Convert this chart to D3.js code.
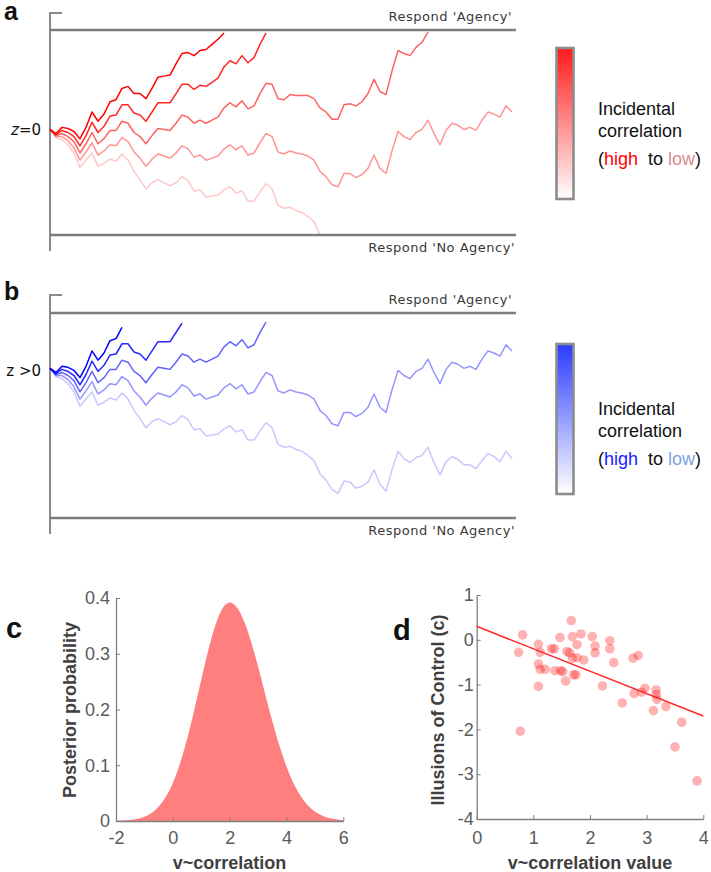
<!DOCTYPE html>
<html><head><meta charset="utf-8">
<script src="https://cdn.jsdelivr.net/npm/d3@7"></script>
<style>body{margin:0;background:#fff}svg{display:block}</style>
</head><body>
<svg id="fig" width="711" height="872"></svg>
<script>
// ---------- DATA ----------
// time steps of the accumulation (shared by all walks)
const steps = [0,6,12,18,24,30,36,42,48,54,60,66,72,78,84,90,96,102,108,114,120,126,132,138,144,150,156,162,168,174,180,186,192,198,204,210,216,222,228,234,240,246,252,258,264,270,276,282,288,294,300,306,312,318,324,330,336,342,348,354,360,366,372,378,384,390,396,402,408,414,420,426,432,438,444,450,456,462];
// evidence displacement from the starting point, walks ordered high -> low incidental correlation
const walk1 = [0,-4,2,1,-2,-9,2,17,8,15,27,29,40,42,35,35,30,40,51,52,53,64,74,75,72,77,78,83,88,94];
const walk2 = [0,-5,-1,-3,-7,-16,-6,7,-3,3,13,14,24,24,16,14,8,17,26,26,26,35,44,44,39,43,42,46,50,61,67,64,72,65,70,83,94];
const walk3 = [0,-6,-4,-7,-12,-23,-14,-3,-14,-9,-1,-1,8,6,-3,-7,-14,-6,1,0,-1,6,14,12,6,9,6,9,12,21,26,22,28,20,23,35,45,44,30,29,34,33,33,33,30,21,17,10,10,24,25,23,27,35,49,37,34,57,77,74,72,80,85,95];
const walk4 = [0,-7,-7,-11,-18,-30,-22,-13,-25,-21,-15,-16,-8,-12,-22,-28,-36,-29,-24,-26,-28,-23,-16,-19,-27,-25,-30,-28,-26,-19,-15,-20,-16,-25,-23,-13,-4,-7,-22,-24,-21,-23,-24,-26,-30,-41,-46,-54,-56,-43,-43,-47,-44,-38,-25,-38,-43,-21,-2,-7,-10,-3,0,9,-4,-15,-1,6,4,0,2,-1,9,17,15,12,23,17];
const walk5 = [0,-8,-10,-15,-23,-37,-30,-23,-36,-33,-29,-31,-24,-30,-41,-49,-58,-52,-49,-52,-55,-52,-46,-50,-60,-59,-66,-65,-64,-59,-56,-62,-60,-70,-70,-61,-53,-58,-74,-77,-76,-79,-81,-85,-90,-103,-109,-118,-122,-110,-111,-117,-115,-111,-99,-113,-120,-99,-81,-88,-92,-87,-85,-77,-92,-104,-91,-86,-89,-94,-94,-98,-90,-83,-86,-91,-81,-88];
const walkAlpha = [1, 0.85, 0.62, 0.42, 0.22];
const bounds = [-100, 100];
const startA = 3, startB = 46;
const stopA = [29, 36, 63, 77, 45];   // last step index drawn (panel a)
const stopB = [12, 22, 36, 77, 77];   // last step index drawn (panel b)

// panel c: posterior density
const densityX = [-2,-1.75,-1.5,-1.25,-1,-0.75,-0.5,-0.25,0,0.25,0.5,0.75,1,1.25,1.5,1.75,2,2.25,2.5,2.75,3,3.25,3.5,3.75,4,4.25,4.5,4.75,5,5.25,5.5,5.75,6];
const densityY = [0.0004,0.0008,0.0019,0.0039,0.0077,0.0144,0.0256,0.043,0.0683,0.1029,0.1467,0.1982,0.2532,0.3066,0.3515,0.3815,0.392,0.3836,0.3594,0.3225,0.277,0.2279,0.1795,0.1354,0.0978,0.0676,0.0448,0.0284,0.0172,0.01,0.0056,0.003,0.0015];
const cTicksX = [-2,0,2,4,6];
const cTicksY = [0,0.1,0.2,0.3,0.4];

// panel d: scatter
const scatterX = [0.74,0.81,0.77,1.09,1.12,1.09,1.12,1.21,1.09,1.32,1.37,1.38,1.47,1.48,1.52,1.57,1.59,1.64,1.67,1.69,1.69,1.71,1.77,1.77,1.75,1.84,1.89,2.04,2.09,2.09,2.22,2.35,2.35,2.42,2.57,2.76,2.85,2.78,2.91,2.97,3.12,3.17,3.17,3.18,3.34,3.62,3.5,3.89];
const scatterY = [-0.28,0.11,-2.04,-0.1,-0.28,-0.54,-0.66,-0.66,-1.04,-0.2,-0.2,-0.69,0.05,-0.69,-0.71,-0.92,-0.26,-0.29,0.43,0.07,-0.41,-0.78,-0.11,-0.4,-0.78,0.13,-0.45,0.07,-0.14,-0.29,-1.03,-0.02,-0.2,-0.51,-1.41,-0.41,-0.35,-1.2,-1.17,-1.08,-1.58,-1.12,-1.22,-1.33,-1.49,-1.84,-2.39,-3.15];
const fitX = [0, 4];
const fitY = [0.3, -1.7];
const dTicksX = [0,1,2,3,4];
const dTicksY = [1,0,-1,-2,-3,-4];

// ---------- DRAWING ----------
const svg = d3.select("#fig");
const SANS = "'Liberation Sans', Arial, sans-serif";
const defs = svg.append("defs");
const walks = [walk1, walk2, walk3, walk4, walk5];

function walkPanel(o) {
  const g = svg.append("g");
  const x = d3.scaleLinear().domain([0, 466]).range([50, 516]);
  const y = d3.scaleLinear().domain(bounds).range([o.bottom, o.top]);
  // left axis
  g.append("path").attr("d", `M62,${o.axisTop}H50V${o.axisBottom}`)
    .attr("fill", "none").attr("stroke", "#8a8a8a").attr("stroke-width", 2);
  // decision bounds
  g.selectAll("line.bound").data(bounds).join("line")
    .attr("x1", x(0)).attr("x2", x(466))
    .attr("y1", d => y(d)).attr("y2", d => y(d))
    .attr("stroke", "#7d7d7d").attr("stroke-width", 2.6);
  // walks
  const line = d3.line().x((d, i) => x(steps[i])).y(d => y(o.start + d));
  const order = [4, 3, 2, 1, 0];
  order.forEach(k => {
    g.append("path").datum(walks[k].slice(0, o.stops[k] + 1))
      .attr("d", line).attr("fill", "none")
      .attr("stroke", o.color).attr("stroke-opacity", walkAlpha[k])
      .attr("stroke-width", 1.5).attr("stroke-linejoin", "round");
  });
  // start label
  const t = g.append("text").attr("x", o.zx).attr("y", o.zy).attr("text-anchor", "end")
    .attr("font-family", "'DejaVu Sans', sans-serif").attr("font-size", 15).attr("fill", "#111");
  t.append("tspan").attr("font-style", o.italic ? "italic" : "normal").text("z");
  t.append("tspan").text(o.zrest);
  // respond labels
  g.append("text").attr("x", 512).attr("y", o.agencyY).attr("text-anchor", "end")
    .attr("font-family", "'DejaVu Sans', sans-serif").attr("font-size", 13)
    .attr("letter-spacing", 0.5).attr("fill", "#3a3a3a").text("Respond 'Agency'");
  g.append("text").attr("x", 515).attr("y", o.noAgencyY).attr("text-anchor", "end")
    .attr("font-family", "'DejaVu Sans', sans-serif").attr("font-size", 13)
    .attr("letter-spacing", 0.5).attr("fill", "#3a3a3a").text("Respond 'No Agency'");
  // panel letter
  g.append("text").attr("x", 4).attr("y", o.letterY).attr("font-family", SANS)
    .attr("font-weight", "bold").attr("font-size", 25).attr("fill", "#111").text(o.letter);
  // colour bar
  const gid = "grad" + o.letter;
  const gr = defs.append("linearGradient").attr("id", gid).attr("x1", 0).attr("y1", 0).attr("x2", 0).attr("y2", 1);
  gr.append("stop").attr("offset", "0%").attr("stop-color", o.barTop);
  gr.append("stop").attr("offset", "100%").attr("stop-color", "#ffffff");
  g.append("rect").attr("x", 556.5).attr("y", o.barY0).attr("width", 17).attr("height", o.barY1 - o.barY0)
    .attr("fill", `url(#${gid})`).attr("stroke", "#8c8c8c").attr("stroke-width", 2.6);
  const lg = g.append("g").attr("font-family", SANS).attr("font-size", 18).attr("fill", "#111");
  lg.append("text").attr("x", 598).attr("y", o.legY[0]).text("Incidental");
  lg.append("text").attr("x", 598).attr("y", o.legY[1]).text("correlation");
  const l3 = lg.append("text").attr("x", 598).attr("y", o.legY[2]).attr("xml:space", "preserve");
  l3.append("tspan").text("(");
  l3.append("tspan").attr("fill", o.highColor).text("high");
  l3.append("tspan").text("  to ");
  l3.append("tspan").attr("fill", o.lowColor).text("low");
  l3.append("tspan").text(")");
}

walkPanel({
  top: 30, bottom: 235, start: startA, stops: stopA, color: "#ff0000",
  axisTop: 13, axisBottom: 251, zx: 41, zy: 135, italic: true, zrest: "=0",
  agencyY: 21, noAgencyY: 252, letter: "a", letterY: 20,
  barTop: "#ff1a1a", barY0: 48, barY1: 199, legY: [115, 137, 165],
  highColor: "#ff0000", lowColor: "#d98c8c"
});
walkPanel({
  top: 313, bottom: 518, start: startB, stops: stopB, color: "#0000ff",
  axisTop: 295, axisBottom: 534, zx: 41, zy: 376, italic: false, zrest: " >0",
  agencyY: 304, noAgencyY: 535, letter: "b", letterY: 300,
  barTop: "#2a3cff", barY0: 344, barY1: 494, legY: [415, 437, 465],
  highColor: "#1a1aff", lowColor: "#7ea3e6"
});

function styleAxis(sel) {
  sel.select(".domain").attr("stroke", "#7f7f7f").attr("stroke-width", 1.3);
  sel.selectAll(".tick line").attr("stroke", "#7f7f7f");
  sel.selectAll(".tick text").attr("fill", "#5a5a5a").attr("font-size", 18).attr("font-family", SANS);
}

// ---------- panel c ----------
{
  const x = d3.scaleLinear().domain([-2, 6]).range([116, 343.3]);
  const y = d3.scaleLinear().domain([0, 0.4]).range([821, 598]);
  const g = svg.append("g");
  const area = d3.area().x((d, i) => x(densityX[i])).y0(y(0)).y1(d => y(d)).curve(d3.curveMonotoneX);
  g.append("path").datum(densityY).attr("d", area).attr("fill", "#ff7f7f");
  g.append("g").attr("transform", `translate(0,${y(0)})`)
    .call(d3.axisBottom(x).tickValues(cTicksX).tickFormat(d => String(d)).tickSize(-4).tickSizeOuter(0).tickPadding(10))
    .call(styleAxis);
  g.append("g").attr("transform", `translate(${x(-2)},0)`)
    .call(d3.axisLeft(y).tickValues(cTicksY).tickFormat(d => d === 0 ? "0" : d3.format(".1f")(d)).tickSize(-4).tickSizeOuter(0).tickPadding(6))
    .call(styleAxis);
  g.append("text").attr("transform", "translate(76,710) rotate(-90)").attr("text-anchor", "middle")
    .attr("font-family", SANS).attr("font-weight", "bold").attr("font-size", 18).attr("fill", "#404040")
    .text("Posterior probability");
  g.append("text").attr("x", 229.5).attr("y", 869).attr("text-anchor", "middle")
    .attr("font-family", SANS).attr("font-weight", "bold").attr("font-size", 18).attr("fill", "#404040")
    .text("v~correlation");
  g.append("text").attr("x", 6).attr("y", 638).attr("font-family", SANS).attr("font-weight", "bold")
    .attr("font-size", 29).attr("fill", "#111").text("c");
}

// ---------- panel d ----------
{
  const x = d3.scaleLinear().domain([0, 4]).range([476.7, 703.3]);
  const y = d3.scaleLinear().domain([-4, 1]).range([819, 595]);
  const g = svg.append("g");
  g.append("g").attr("transform", `translate(0,${y(-4)})`)
    .call(d3.axisBottom(x).tickValues(dTicksX).tickFormat(d => String(d)).tickSize(-4).tickSizeOuter(0).tickPadding(12))
    .call(styleAxis);
  g.append("g").attr("transform", `translate(${x(0)},0)`)
    .call(d3.axisLeft(y).tickValues(dTicksY).tickFormat(d => String(d)).tickSize(-4).tickSizeOuter(0).tickPadding(3))
    .call(styleAxis);
  g.selectAll("circle").data(scatterX).join("circle")
    .attr("cx", d => x(d)).attr("cy", (d, i) => y(scatterY[i])).attr("r", 4.8)
    .attr("fill", "#ff0000").attr("fill-opacity", 0.3);
  g.append("line").attr("x1", x(fitX[0])).attr("y1", y(fitY[0])).attr("x2", x(fitX[1])).attr("y2", y(fitY[1]))
    .attr("stroke", "#ff2a2a").attr("stroke-width", 1.6);
  g.append("text").attr("transform", "translate(444,710) rotate(-90)").attr("text-anchor", "middle")
    .attr("font-family", SANS).attr("font-weight", "bold").attr("font-size", 18).attr("fill", "#404040")
    .text("Illusions of Control (c)");
  g.append("text").attr("x", 590).attr("y", 869).attr("text-anchor", "middle")
    .attr("font-family", SANS).attr("font-weight", "bold").attr("font-size", 18).attr("fill", "#404040")
    .text("v~correlation value");
  g.append("text").attr("x", 393).attr("y", 640).attr("font-family", SANS).attr("font-weight", "bold")
    .attr("font-size", 29).attr("fill", "#111").text("d");
}
</script>
</body></html>
